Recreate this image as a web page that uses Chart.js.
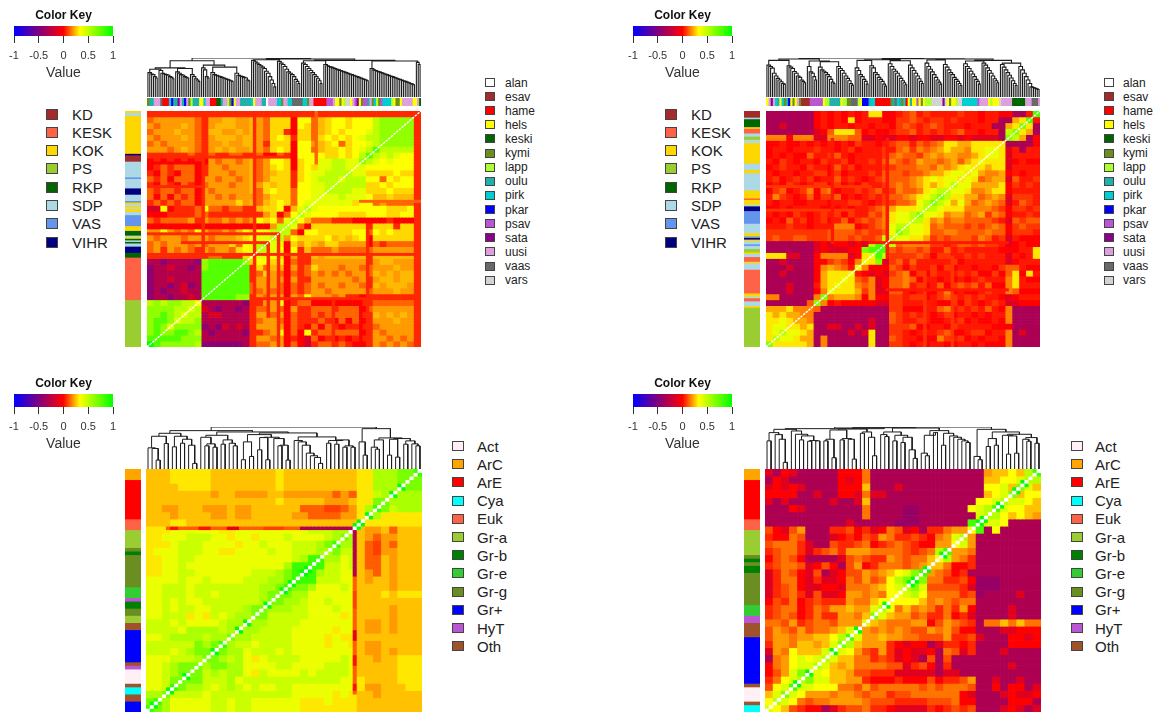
<!DOCTYPE html>
<html><head><meta charset="utf-8">
<script src="https://cdn.jsdelivr.net/npm/chart.js@4"></script>
<style>
html,body{margin:0;padding:0;background:#fff;width:1158px;height:712px;overflow:hidden;font-family:"Liberation Sans",Arial,sans-serif}
canvas{position:absolute;display:block}
.sw{position:absolute;box-sizing:border-box;border:1.5px solid #444}
.lb{position:absolute;color:#222;white-space:nowrap;line-height:1}
</style></head><body>
<script>
// ---------- categories and colours ----------
const parties = ['KD','KESK','KOK','PS','RKP','SDP','VAS','VIHR'];
const partyColors = ['#a52a2a','#ff6347','#ffd700','#9acd32','#006400','#add8e6','#6495ed','#000080'];
const regions = ['alan','esav','hame','hels','keski','kymi','lapp','oulu','pirk','pkar','psav','sata','uusi','vaas','vars'];
const regionColors = ['#ffffff','#a52a2a','#ff0000','#ffff00','#006400','#6b8e23','#adff2f','#20b2aa','#00ced1','#0000ff','#ba55d3','#8b008b','#dda0dd','#696969','#d3d3d3'];
const taxa = ['Act','ArC','ArE','Cya','Euk','Gr-a','Gr-b','Gr-e','Gr-g','Gr+','HyT','Oth'];
const taxaColors = ['#fff0f5','#ffa500','#ff0000','#00ffff','#ff6347','#9acd32','#008000','#32cd32','#6b8e23','#0000ff','#ba55d3','#a0522d'];
const keyTicks = [-1,-0.5,0,0.5,1];
const keyStops = [[0,'#0000ff'],[0.5,'#ff0000'],[0.665,'#ffff00'],[1,'#00ff00']];
const levelNames = 'abcdefghijklmno';
const levelValuesA = [-0.45,-0.3,-0.15,0,0.05,0.13,0.2,0.24,0.28,0.33,0.4,0.5,0.62,0.78,1];
const levelValuesB = [-0.45,-0.33,-0.12,0,0.03,0.07,0.12,0.17,0.22,0.3,0.38,0.5,0.65,0.8,1];
const levelValuesC = [-0.5,-0.3,-0.1,0.02,0.08,0.12,0.2,0.25,0.3,0.38,0.47,0.55,0.68,0.85,1];
const levelValuesD = [-0.4,-0.32,-0.12,0,0.05,0.1,0.15,0.2,0.25,0.33,0.42,0.52,0.66,0.82,1];

// ---------- side strips ----------
const leftNamesA = ['KOK','SDP','KOK','VIHR','KD','SDP','VAS','SDP','VIHR','SDP','VAS','KOK','SDP','KOK','SDP','KOK','SDP','VAS','KOK','RKP','SDP','KOK','RKP','SDP','RKP','SDP','VIHR','RKP','KESK','PS'];
const leftCountsA = [1,2,24,1,4,10,1,6,4,4,1,1,1,1,1,2,2,7,3,3,1,1,1,1,1,2,4,3,27,30];
const leftNamesB = ['KD','SDP','RKP','KOK','KESK','SDP','PS','SDP','KOK','SDP','KOK','SDP','KOK','KESK','KOK','SDP','VIHR','VAS','SDP','KOK','VAS','VIHR','KOK','SDP','VAS','SDP','PS','KOK','SDP','KESK','KOK','SDP','KESK','KOK','SDP','KESK','SDP','KOK','PS'];
const leftCountsB = [4,1,5,1,3,2,2,2,13,4,2,11,5,1,3,1,3,8,6,2,1,1,1,2,1,2,2,1,2,3,1,4,15,2,1,2,3,1,25];
const leftNamesC = ['ArC','ArE','Euk','Gr-a','Gr-g','Gr-b','Gr-g','Gr-e','HyT','Gr-b','Gr-g','Gr-a','Oth','Gr+','Oth','HyT','Act','Oth','Cya','Oth','Gr+'];
const leftCountsC = [3,11,3,5,1,1,9,3,1,2,2,2,2,9,1,1,4,1,2,2,3];
const leftNamesD = ['ArC','ArE','Euk','Gr-a','Gr-g','Gr-b','Gr-g','Gr-b','Gr-g','Gr-e','HyT','Oth','Gr+','Oth','Act','Oth','Cya'];
const leftCountsD = [3,11,3,7,1,1,1,2,9,3,2,4,13,1,4,1,2];
const topNamesA = ['kymi','oulu','uusi','vaas','hame','pirk','pkar','oulu','sata','uusi','oulu','pkar','uusi','kymi','lapp','oulu','hels','pirk','uusi','hame','keski','oulu','uusi','lapp','kymi','pkar','hels','uusi','oulu','pirk','hels','uusi','oulu','alan','uusi','pirk','kymi','uusi','pirk','vaas','pirk','kymi','uusi','hame','psav','uusi','hels','kymi','hels','lapp','vars','hels','uusi','psav','sata','hels','kymi','psav','oulu','uusi','kymi','pirk','lapp','kymi','psav','pirk','lapp','hels','kymi','hels','uusi','hels','uusi','keski'];
const topCountsA = [1,2,3,1,3,1,1,2,1,1,1,1,1,1,1,3,2,1,2,3,2,1,2,1,1,1,1,2,5,1,1,3,2,1,4,2,1,2,2,5,2,1,2,6,3,1,2,1,1,1,2,1,1,1,1,1,1,2,1,1,1,1,1,1,1,4,1,1,2,1,5,2,1,1];
const topNamesB = ['hels','uusi','sata','uusi','pirk','oulu','hels','pirk','kymi','oulu','pkar','hels','kymi','hels','uusi','kymi','esav','psav','hels','lapp','oulu','hels','lapp','kymi','vaas','lapp','hels','pkar','oulu','pirk','hame','kymi','oulu','vaas','pirk','oulu','kymi','pirk','hame','hels','oulu','hels','psav','hels','kymi','hels','lapp','vars','sata','vars','hels','kymi','hels','lapp','vars','pirk','psav','uusi','hels','lapp','hels','vars','uusi','keski','uusi','vaas','uusi'];
const topCountsB = [1,1,1,1,1,1,1,1,1,1,1,1,1,1,1,1,4,6,1,2,5,1,2,2,3,1,1,3,1,2,7,1,1,1,1,1,1,1,1,1,1,2,1,1,1,1,3,5,1,1,1,1,2,1,2,7,1,4,1,1,3,1,5,6,3,3,1];

// ---------- dendrograms: [height, left, right]; 0 is a leaf ----------
const ladder = hs => hs.reduceRight((t,h)=>[h,0,t],0);
const rungsA = [[72,68,66,60,56],[78,70,68,66,64,60,58,54],[74,70,66,64,60,58,56],[66,60,54,50,46],[86,80,60,56],[72,66,64,62,60,58,56,54,52,50,48,46],[70,64,62,60,58,56,50,48],[108,104,100,96,92,88,84,76,70,60,50,40,30],[105,100,96,90,82,74,70,66,60,52,46,40],[100,96,90,84,78,72,66,60,54,48,40],[96,92,90,88,86,84,82,80,78,76,74,72,70,68,66,64,62,60,58,56,54,52,50,48],[84,80,78,76,74,72,70,68,66,64,62,60,58,56,54,52,50,48,46,44,42,40,38,36],[102,96]];
const a = rungsA.map(ladder);
const treeA = [115,[107,[86,[82,a[0],a[1]],[84,a[2],a[3]]],[94,a[4],[88,a[5],a[6]]]],[112,[110,a[7],a[8]],[108,[107,a[9],a[10]],[106,a[11],a[12]]]]];
const rungsB = [[94,90,85,70,62,55,50,45,40,38],[92,88,84,75,70,62,58,50,46,42],[90,74,70,60,50],[88,80,76,72,66,60,52,44,40],[90,84,78,70,62,55,48,40,35],[86,78,66,60,52,46,38],[92,86,72,66,58,52,46,38,32],[98,90,82,76,70,62,55,48,42,36],[94,86,78,70,62,54,46,40],[100,90,82,74,66,58,50,44,38],[96,88,80,72,66,58,52,46,40,34],[98,90,84,76,68,60,52,46,38],[100,94,86,78,70,62,54,48,42],[96,88,80,72,64,56,48,40,34],[90,80,70,60,50,40,30,28,26,24,22]];
const b = rungsB.map(ladder);
const treeB = [115,[112,[108,b[0],b[1]],[106,b[2],[104,b[3],b[4]]]],[113,[110,[108,b[5],b[6]],[107,b[7],b[8]]],[112,[109,b[9],b[10]],[108,[106,b[11],b[12]],[100,b[13],b[14]]]]]];
const treeC = [127,[116,[108,[99,[64,0,[62,0,[27,0,0]]],[77,0,0]],[99,[67,0,0],[90,[78,0,0],[72,0,[17,0,0]]]]],[112,[102,[96,0,[76,[70,0,0],[66,0,0]]],[88,[75,0,0],[78,0,[70,0,0]]]],[109,[104,[82,[28,0,0],[38,0,0]],[96,[95,[58,0,0],[28,0,0]],[92,0,[72,[70,0,0],[27,0,0]]]]],[97,[86,0,[82,0,[72,0,[48,0,[40,0,[35,0,[17,0,0]]]]]]],[86,[78,0,0],[88,[75,0,0],[70,[66,0,0],[66,0,0]]]]]]]],[122,[82,0,[42,0,0]],[94,[88,[66,0,[60,0,0]],0],[92,[90,[42,0,0],[36,0,0]],[85,[75,0,0],[76,0,[70,0,0]]]]]]];
const treeD = [127,[122,[120,[110,[85,0,0],[104,0,[90,0,[20,0,0]]]],[115,0,[105,0,[100,[88,0,0],[86,[84,0,0],[85,0,0]]]]]],[125,[121,[118,[90,[85,0,0],[34,0,0]],[92,[88,0,0],[90,0,[30,0,0]]]],[112,[108,0,0],[96,0,[40,0,0]]]],[124,[112,[104,0,[98,0,0]],[102,[85,0,0],[96,[80,0,0],[58,0,[32,0,0]]]]],[116,[102,[48,0,[40,0,0]],[110,0,0]],[108,[72,0,0],[100,0,[96,0,[90,0,[85,0,[80,0,0]]]]]]]]]],[120,[38,0,[28,0,0]],[112,[92,[68,0,0],[72,0,0]],[105,[102,0,[100,[45,0,0],[48,0,0]]],[95,[90,0,[84,0,0]],[78,0,0]]]]]];

// ---------- correlation levels read by block; each row runs from the left edge up to the diagonal ----------
const heatA = [
"fgggg ggfeg ghhgg hgfii idjjf hijji jjjlm mmmmm",
"fgggg ggfeg ghhgg hgfii idjjf hijji jjjlm mmmm",
"gfggg hgfeg hhhgg hgfii idjif hijji jjjlm mmm",
"fgggh ggfeh hgghg hgfii ediif hijij jjklm mm",
"gfggg hgfeg hhhgh hgfij ieiif ijiji jkllm m",
"fgfgg ggfeg ghggh hgeii idjjg hijfi jjklm",
"gggfg hgfeg hghgg hgfij idjjf hiiji jkln",
"eeeee efeef eeffe efddf edjjj jiiji jln",
"deded ededg fggfg hfgjj idijj kkllk km",
"defef ffdeg gfggg hfgij idiji kkllk k",
"edfed ffdeg ggfgg hfghi ieijk kllll",
"fefdf ffdgg fggfg hfgii ieijk lllk",
"edfed fedfg ggfgg hgihi iejjk kll",
"feffe ffdgf ggggg hfiji ifjjk kl",
"fdfdf efdgg fgfgg gfgii ifjjk k",
"efefe ffdgg gggig hfhij ifjkk",
"ccjde eefjf feffe ehiij dhkl",
"dddee eeffe eeeee eegid fjl",
"fefff fgegf fgfgf gjijf kl",
"ddddd ddddd ddddd dddgl l",
"ggjgf gfjgf fgfhj ijkll",
"gfggg fgggf ggghi jkkl",
"fgfgg gfgfg ggifj kln",
"fgegf gfegf ggfij kl",
"eeeee eeeef feeei j",
"bbabb bbamn nnnnm",
"abbcb babmn nnnn",
"abbbb bbbnn nnn",
"abbcb bbbnn nn",
"abbab cabnn n",
"ababb cbbnn",
"abbab bcbn",
"lmlmm llj",
"mmmml lk",
"mmnml k",
"mnnmk",
"mnmk",
"mnm",
"nn",
"o"];
const heatB = [
"bbbbb bbded edede jjdde fgefe eeefe edeed dbben",
"bbbbb bbded edjde eeddf fgfef fefee edeeb bijn",
"bbcbb bbded eedee deedf gfefg feeed eeebb ijm",
"bbbbb bbcdg jjjgd eddef fgefe fefge edeeb lm",
"hhhdh hhcch hhggc cdccd dcddc cddcd ccccb m",
"ddedd edede dedfe edefg gegfg hjjii jjjjj",
"deede eefee defde eefeg hfhgh ijiih jjkk",
"deded dgeef gedee eefgh ggfhi hiihh ijk",
"edfed eedfe efdee feghg fgihh ghigi jk",
"defee dfeed gefde eeffg gghhg ihijk j",
"edeed eeffd fdeee feggg fgghi ijkkj",
"efdef efdee gefed efggg ghijk jkkj",
"dedfe deffd fdedf eefgh ghiji jkl",
"dfgde fhdgh deefe fgefh gghjk ll",
"ehfed egdff gdede fefgg hijkl m",
"edeed deeed eeffe deffg ghklm",
"ddede eeedd dedee fghij jjkl",
"ededf edefe fdfee gfhjk klm",
"dedge fdefd egdfg fghjk kl",
"eeefe edeee hhhde fghkl l",
"fffff ffffg gggfg ffgkm",
"fgffg gfffg ggfgf fgll",
"bbbbb bbcdc ddcdc lnn",
"bbbbb bbcdc ccddm nn",
"jjjcc bbdhh hhcdj k",
"bbcbb bbddf gfdhk",
"bbbcb bbdhi hgek",
"bbcbb bbdij jjk",
"bbbbb bbdij jk",
"bbbcb bbeij k",
"bbbcb bbdhk",
"hhbbb bbhm",
"bbbbb bgm",
"iiijh hh",
"jijii h",
"jjkji",
"jkkj",
"jkl",
"jl",
"m"];
const heatC = [
"hhhii iiihh hhhhh hihhh hhhhh hiill lmmn",
"hhhii iiihh hhhhh hihhh hhhhh hiill lmm",
"hhhhi iiihh hhhhh hihhh hhhhh hiill lm",
"hhhhh hhhgh hgggg hhggg gggfg fiikl l",
"hhhhh hhhhh hhhhh hihhh hhggg hiimm",
"hhggh hhggg hgghh hhhhf ffeef giln",
"hhhgh hhhgg hgghh hhhgg ffffg gij",
"hhhii hhhhh hhhhh hhhhh hhhhh hm",
"iiijj jjjji ijjjj jjjjj kkkll l",
"iijjj kkkjj ijjij jjkjj jjklm",
"iiijk kkjjj jijjk jjjkk klmn",
"ijjjk kkjji ijjjj kjjkk kll",
"iijjk kjjjj jjjjj jjjkl nn",
"iijjk jjjjj jjjjj jjlnn n",
"iijjk kjjjj jjjkk klmnn",
"jjjjk jjkjj jjkkk llmn",
"jjkkk jkkkk kkkkl lmn",
"jjkkk jkkjk kkkkl mm",
"jjkjk jjkkk kkkkl m",
"jjkjk kjjkk kklmm",
"jjkkk ijikj kllm",
"kkkjk jjjjk llm",
"kkkkj llllk ln",
"jjkll llkll m",
"kkkkk kmlmn",
"kkkjk lmmm",
"jjjkk klm",
"jjklm mm",
"jjklm m",
"jjkmm",
"jjkn",
"llm",
"mn",
"n"];
const heatD = [
"cbdcb bbbbd ddgbb bbbbb bbbbb bbhii jiln",
"bdcbb bbbbd cdgbb bbbbb bbbbb bbiij jkl",
"cdcdc bbbbd ddibb bcbbb bbbbb bbjjk im",
"ddddb bcbbd dcgcc bbbbb bbbbb bbijk m",
"cbcbb bbbcb bcibb bbbbb bbbbb bjjkl",
"bbbdc bbbbb bbgbb bbaab bbbbb jkln",
"bbbbb bbbbb bbgbb bbaab bbbbb bkl",
"bbbbb bbbbb cbbbb baaab bbbbb no",
"fdcfh bbbee fdecd gfcdb eeghh j",
"eddgf bbbcd edfeh geefe dghkl",
"fggge cbbfe efgde fgfed dhhj",
"efgge cefge hhhgg ggfef gln",
"dfgfd bbbbc fgfee hgfgg ij",
"efggf cdfdb fhdeg ggfgh i",
"cegfd cfbcd ffhgh ijkmn",
"ceggd ceccd gfhfg jlmn",
"cefgd ccddc ggghi jkl",
"cefge cfccd hhghg jj",
"dfegd efeee hggij j",
"efggd egfhh ihhkl",
"efgfd egeeh hgim",
"ggfhe fggfh hhk",
"fhgfh fgghi kn",
"fhhgh hiijl n",
"ehhgi ihikm",
"chgji iikl",
"bghjk jkl",
"dghjk kl",
"dfhkm l",
"egjkl",
"fjkn",
"ikm",
"jl",
"k"];
// single-cell lines at full resolution: [row, firstColumn, lastColumn, level]
const linesA = [[0,0,79,'e'],[1,0,79,'e'],[15,0,40,'e'],[17,0,16,'d'],[25,0,16,'e'],[30,62,79,'f'],[41,0,38,'e'],[44,10,35,'e'],[48,16,79,'e'],[63,30,79,'e']];
const linesB = [[25,0,30,'f'],[33,0,25,'f'],[44,30,70,'e'],[60,35,70,'e']];
const linesC = [[16,5,37,'f'],[16,6,7,'d'],[16,13,15,'d'],[16,20,22,'c'],[16,29,33,'e'],[16,38,51,'b']];
const linesD = [];
// rows whose cell next to the diagonal is bright green
const brightC = [4,6,12,14,15,27,28,31,33,37,42,44,50,57,61,65];
const brightD = [3,5,9,13,14,23,27,30,31,37,44,50,56,59];

// ---------- helpers ----------
Chart.defaults.font.family = '"Liberation Sans", Arial, sans-serif';
Chart.defaults.animation = false;
Chart.defaults.responsive = false;
Chart.defaults.devicePixelRatio = 1;
Chart.defaults.plugins.legend.display = false;
Chart.defaults.plugins.tooltip.enabled = false;

function mk(x,y,w,h,cfg){
  const c=document.createElement('canvas');c.width=w;c.height=h;
  c.style.left=x+'px';c.style.top=y+'px';c.style.width=w+'px';c.style.height=h+'px';
  document.body.appendChild(c);new Chart(c,cfg);
}
function levelColor(ch,values){
  const v=values[levelNames.indexOf(ch)];
  let r,g,bl;
  if(v<0){r=255*(1+v);g=0;bl=255*(-v);}
  else if(v<0.33){r=255;g=255*v/0.33;bl=0;}
  else{r=255*(1-(v-0.33)/0.67);g=255;bl=0;}
  return `rgb(${Math.round(r)},${Math.round(g)},${Math.round(bl)})`;
}
function expand(rows,n){
  const t=rows.map(s=>s.replace(/\s/g,''));const G=t.length,f=n/G;
  const at=(r,c)=>{ if(c>=t[r].length){const r2=G-1-c,c2=G-1-r;return t[r2][c2]||'j';} return t[r][c]; };
  const M=[];
  for(let r=0;r<n;r++){M.push([]);for(let c=0;c<n;c++)M[r].push(at(Math.floor(r/f),Math.floor(c/f)));}
  return M;
}
function heat(x,y,w,h,rows,n,opts){
  const M=expand(rows,n);
  (opts.lines||[]).forEach(([r,c0,c1,l])=>{for(let c=c0;c<=c1;c++){M[r][c]=l;M[n-1-c][n-1-r]=l;}});
  (opts.bright||[]).forEach(r=>{M[r][n-2-r]='o';M[r+1][n-1-r]='o';});
  const labels=[...Array(n).keys()].map(String);
  const ds=M.map((row,r)=>({type:'bar',data:row.map(()=>[r,r+1]),order:1,borderWidth:0,
     backgroundColor:row.map((ch,c)=>(opts.whiteDiag&&c===n-1-r)?'#ffffff':levelColor(ch,opts.values)),
     barPercentage:1,categoryPercentage:1,grouped:false}));
  const scales={x:{type:'category',display:false,labels},y:{type:'linear',display:false,reverse:true,min:0,max:n}};
  if(opts.line){
    ds.push({type:'scatter',xAxisID:'dx',yAxisID:'dy',order:-1,showLine:true,pointRadius:0,borderColor:'#ffffff',borderWidth:1.4,borderDash:[2.5,1],
      data:[{x:0,y:0},{x:1,y:1}]});
    scales.dx={type:'linear',display:false,min:0,max:1,offset:false};
    scales.dy={type:'linear',display:false,min:0,max:1,offset:false};
  }
  mk(x,y,w,h,{type:'bar',data:{labels,datasets:ds},options:{scales,layout:{padding:0}}});
}
function strip(x,y,w,h,names,counts,cats,cols,vertical){
  const total=counts.reduce((p,q)=>p+q,0);
  const ds=names.map((nm,i)=>({data:[counts[i]],backgroundColor:cols[cats.indexOf(nm)],borderWidth:0,barPercentage:1,categoryPercentage:1}));
  const val={type:'linear',display:false,stacked:true,min:0,max:total};
  const cat={type:'category',display:false,stacked:true};
  mk(x,y,w,h,{type:'bar',data:{labels:[''],datasets:ds},options:{indexAxis:vertical?'x':'y',
    scales:vertical?{x:cat,y:{...val,reverse:true}}:{y:cat,x:val}}});
}
function dendro(x,y,w,h,tree,H,lw){
  let leaf=0;const pts=[];
  const walk=t=>{
    if(t===0){leaf++;return {p:leaf-0.5,h:0};}
    const l=walk(t[1]),r=walk(t[2]);
    pts.push({x:l.p,y:l.h},{x:l.p,y:t[0]},{x:r.p,y:t[0]},{x:r.p,y:r.h},{x:NaN,y:NaN});
    return {p:(l.p+r.p)/2,h:t[0]};
  };
  walk(tree);
  mk(x,y,w,h,{type:'scatter',data:{datasets:[{data:pts,showLine:true,pointRadius:0,borderColor:'#1c1c1c',borderWidth:lw,spanGaps:false}]},
    options:{scales:{x:{type:'linear',display:false,min:0,max:leaf},y:{type:'linear',display:false,min:0,max:H}}}});
}
function key(x,y,barH){
  mk(x,y,130,26+barH+46,{type:'bar',
    data:{labels:['k'],datasets:[{data:[[-1,1]],borderWidth:0,barPercentage:1,categoryPercentage:1,
      backgroundColor:c=>{const ar=c.chart.chartArea;if(!ar)return '#000';
        const g=c.chart.ctx.createLinearGradient(ar.left,0,ar.right,0);keyStops.forEach(s=>g.addColorStop(s[0],s[1]));return g;}}]},
    options:{indexAxis:'y',layout:{padding:{left:14,right:17}},
      plugins:{title:{display:true,text:'Color Key',color:'#111',font:{size:12,weight:'bold',lineHeight:1.2},padding:{top:8,bottom:3.6}}},
      scales:{y:{type:'category',display:false},
        x:{type:'linear',min:-1,max:1,afterFit:s=>{s.height=46;},
          afterBuildTicks:s=>{s.ticks=keyTicks.map(v=>({value:v}));},
          border:{display:false},
          grid:{drawOnChartArea:false,drawTicks:true,tickLength:7,color:'#333',lineWidth:1},
          ticks:{maxRotation:0,autoSkip:false,color:'#333',font:{size:11},padding:6,callback:v=>String(v)},
          title:{display:true,text:'Value',color:'#333',font:{size:14},padding:0}}}}});
}
function legend(x,y0,step,names,cols,sw,sh,tx,fs){
  names.forEach((nm,i)=>{
    const cy=y0+i*step;
    const s=document.createElement('div');s.className='sw';
    s.style.cssText=`left:${x}px;top:${cy-sh/2}px;width:${sw}px;height:${sh}px;background:${cols[i]}`;
    const l=document.createElement('div');l.className='lb';l.textContent=nm;
    l.style.cssText=`left:${tx}px;top:${cy-fs/2}px;font-size:${fs}px`;
    document.body.append(s,l);
  });
}

// ---------- panels ----------
key(0,0,10); key(619,0,10); key(0,368,13); key(619,368,13);
dendro(147,58,274,39,treeA,115,1.1);
dendro(766,58,274,39,treeB,115,1.1);
dendro(146,427,276,42,treeC,127,1);
dendro(765,427,276,42,treeD,127,1);
strip(147,98,274,8,topNamesA,topCountsA,regions,regionColors,false);
strip(766,98,274,8,topNamesB,topCountsB,regions,regionColors,false);
strip(125,111,16,236,leftNamesA,leftCountsA,parties,partyColors,true);
strip(744,111,16,236,leftNamesB,leftCountsB,parties,partyColors,true);
strip(125,469,16,243,leftNamesC,leftCountsC,taxa,taxaColors,true);
strip(744,469,16,243,leftNamesD,leftCountsD,taxa,taxaColors,true);
heat(147,111,274,236,heatA,80,{line:true,lines:linesA,values:levelValuesA});
heat(766,111,274,236,heatB,80,{line:true,lines:linesB,values:levelValuesB});
heat(146,469,276,243,heatC,68,{whiteDiag:true,lines:linesC,bright:brightC,values:levelValuesC});
heat(765,469,276,243,heatD,68,{whiteDiag:true,lines:linesD,bright:brightD,values:levelValuesD});
legend(46,114,18.3,parties,partyColors,12,11,72,15);
legend(665,114,18.3,parties,partyColors,12,11,691,15);
legend(485,82.5,14.12,regions,regionColors,10,9,505,12);
legend(1104,82.5,14.12,regions,regionColors,10,9,1123,12);
legend(452,446,18.2,taxa,taxaColors,12,10,477,15);
legend(1071,446,18.2,taxa,taxaColors,12,10,1095,15);
</script>
</body></html>
